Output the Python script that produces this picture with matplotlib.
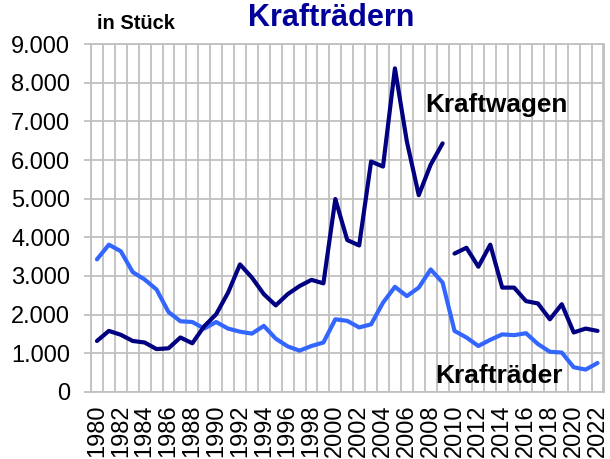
import matplotlib
matplotlib.use("Agg")
import matplotlib.pyplot as plt
from matplotlib.ticker import FixedLocator, FuncFormatter

plt.rcParams['font.family'] = ['Liberation Sans', 'DejaVu Sans']

years = list(range(1980, 2023))
kraftwagen = [1320, 1580, 1480, 1320, 1280, 1110, 1130, 1410, 1260, 1700,
              2010, 2570, 3300, 2960, 2530, 2240, 2530, 2740, 2900, 2810,
              4990, 3930, 3790, 5960, 5830, 8370, 6480, 5090, 5880, 6430,
              3580, 3730, 3240, 3810, 2700, 2700, 2350, 2290, 1880, 2270,
              1540, 1640, 1580]
kraftraeder = [3430, 3810, 3640, 3100, 2910, 2650, 2070, 1830, 1810, 1640,
               1810, 1640, 1560, 1510, 1710, 1380, 1180, 1070, 1190, 1280,
               1880, 1840, 1670, 1750, 2310, 2720, 2480, 2700, 3170, 2830,
               1580, 1410, 1190, 1350, 1490, 1470, 1520, 1240, 1040, 1020,
               640, 580, 750]
break_year = 2010  # series break for Kraftwagen
yticks = list(range(0, 9001, 1000))
xtick_years = list(range(1980, 2023, 2))

W, H = 610, 459
fig = plt.figure(figsize=(W / 100, H / 100), dpi=100)
left, right, top, bottom = 91, 603.5, 44, 392
ax = fig.add_axes([left / W, 1 - bottom / H, (right - left) / W, (bottom - top) / H])

grid_c = '#C0C0C0'
navy = '#000080'
light = '#3366FF'

ax.set_xlim(1979.5, 2022.5)
ax.set_ylim(0, 9000)

# Krafträder
ax.plot(years, kraftraeder, color=light, lw=3.0, solid_capstyle='round',
        solid_joinstyle='round', zorder=3)
# Kraftwagen in two segments (break)
i_b = years.index(break_year)
ax.plot(years[:i_b], kraftwagen[:i_b], color=navy, lw=3.0, solid_capstyle='round',
        solid_joinstyle='round', zorder=4)
ax.plot(years[i_b:], kraftwagen[i_b:], color=navy, lw=3.0, solid_capstyle='round',
        solid_joinstyle='round', zorder=4)

# grid
ax.yaxis.set_major_locator(FixedLocator(yticks))
ax.yaxis.set_major_formatter(FuncFormatter(lambda v, p: f"{v:,.0f}".replace(",", ".")))
ax.xaxis.set_major_locator(FixedLocator(xtick_years))
ax.xaxis.set_minor_locator(FixedLocator([y - 0.5 for y in years] + [years[-1] + 0.5]))
ax.set_xticklabels([str(y) for y in xtick_years], rotation=90)
ax.grid(True, which='major', axis='y', color=grid_c, lw=1.3, zorder=1)
ax.grid(True, which='minor', axis='x', color=grid_c, lw=1.3, zorder=1)
ax.set_axisbelow(True)
for s in ax.spines.values():
    s.set_color(grid_c)
    s.set_linewidth(1.3)
ax.tick_params(axis='y', which='major', length=5, width=1.3, color=grid_c,
               labelsize=17, pad=10, labelcolor='black')
ax.tick_params(axis='x', which='major', length=0, labelsize=17, pad=9)
ax.tick_params(axis='x', which='minor', length=0)

def ftext(x, y, s, **kw):
    fig.text(x / W, 1 - y / H, s, va='baseline', **kw)

ftext(97, 29, 'in Stück', fontsize=14.5, fontweight='bold', color='black')
ftext(331, 26.5, 'Krafträdern', fontsize=22, fontweight='bold', color='#000099', ha='center')
ftext(425, 112, 'Kraftwagen', fontsize=18.8, fontweight='bold', color='black')
ftext(435, 383, 'Krafträder', fontsize=19, fontweight='bold', color='black')

fig.savefig('out.png', dpi=100)
